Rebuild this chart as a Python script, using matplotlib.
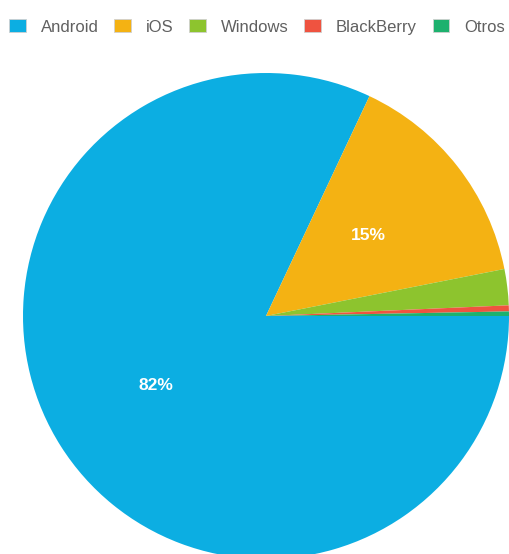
import matplotlib
matplotlib.use('Agg')
import matplotlib.pyplot as plt
from matplotlib.patches import Rectangle

sistemas = ['Android', 'iOS', 'Windows', 'BlackBerry', 'Otros']
cuota = [82.0, 14.9, 2.4, 0.4, 0.3]
colores = ['#0caee2', '#f4b213', '#8dc42e', '#ef5340', '#1db16e']

W, H = 509, 554
fig = plt.figure(figsize=(W / 100, H / 100), dpi=100)

# pie circle: center (266, 316) px, radius 243 px
cx, cy, r = 266, 316, 243
ax = fig.add_axes([(cx - r) / W, (H - cy - r) / H, 2 * r / W, 2 * r / H])


def etiqueta(p):
    return '%d%%' % round(p) if p > 10 else ''


wedges, texts, autotexts = ax.pie(cuota, colors=colores, startangle=0, counterclock=False,
                                  autopct=etiqueta, pctdistance=0.535,
                                  wedgeprops=dict(linewidth=0))
for t in autotexts:
    t.set_color('white')
    t.set_fontweight('bold')
    t.set_fontsize(12.5)
    t.set_family('Liberation Sans')
ax.set_xlim(-1, 1)
ax.set_ylim(-1, 1)
ax.set_aspect('auto')
ax.axis('off')

handles = [Rectangle((0, 0), 1, 1, facecolor=c, edgecolor='#d0d0d0', linewidth=0.6) for c in colores]
leg = fig.legend(handles, sistemas, loc='center left', bbox_to_anchor=(4 / W, 1 - 27 / H),
                 ncol=5, frameon=False, handlelength=1.0, handleheight=0.8,
                 handletextpad=0.9, columnspacing=0.94, borderaxespad=0, borderpad=0.3,
                 prop={'family': 'Liberation Sans', 'size': 12})
for t in leg.get_texts():
    t.set_color('#606060')

fig.savefig('out.png', dpi=100)
